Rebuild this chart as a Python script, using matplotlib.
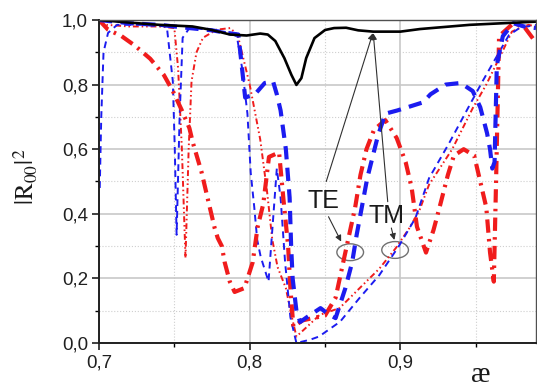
import numpy as np
import matplotlib
matplotlib.use("Agg")
import matplotlib.pyplot as plt
from matplotlib.ticker import MultipleLocator, FuncFormatter
from matplotlib.patches import Ellipse

plt.rcParams['font.family'] = ['Liberation Sans', 'DejaVu Sans']
plt.rcParams['mathtext.fontset'] = 'stix'

# black solid curve
black_x = [0.700, 0.720, 0.740, 0.762, 0.774, 0.787, 0.798, 0.807, 0.812, 0.817,
           0.823, 0.8277, 0.831, 0.8343, 0.8375, 0.843, 0.850, 0.856, 0.864, 0.872,
           0.882, 0.900, 0.913, 0.946, 0.990]
black_y = [1.000, 0.992, 0.985, 0.980, 0.970, 0.955, 0.952, 0.958, 0.955, 0.935,
           0.882, 0.830, 0.799, 0.820, 0.882, 0.944, 0.969, 0.975, 0.976, 0.968,
           0.964, 0.964, 0.972, 0.985, 0.995]

# TE, red thick dash-dot
te_red_x = [0.700, 0.706, 0.715, 0.724, 0.734, 0.743, 0.749, 0.755, 0.760, 0.7623,
            0.768, 0.772, 0.7768, 0.7788, 0.7815, 0.7834, 0.7868, 0.790, 0.7965, 0.802,
            0.8053, 0.809, 0.8128, 0.8195, 0.8225, 0.8255, 0.827, 0.829, 0.835, 0.850,
            0.857, 0.863, 0.870, 0.8735, 0.8775, 0.8825, 0.890, 0.8975, 0.9035, 0.9075,
            0.911, 0.917, 0.922, 0.926, 0.9315, 0.9355, 0.942, 0.949, 0.953, 0.957,
            0.9595, 0.962, 0.9635, 0.9655, 0.975, 0.982, 0.990]
te_red_y = [1.000, 0.970, 0.950, 0.920, 0.880, 0.830, 0.780, 0.720, 0.665, 0.620,
            0.530, 0.450, 0.355, 0.325, 0.300, 0.250, 0.190, 0.158, 0.170, 0.250,
            0.360, 0.430, 0.576, 0.590, 0.440, 0.300, 0.170, 0.050, 0.070, 0.085,
            0.140, 0.270, 0.420, 0.520, 0.600, 0.660, 0.690, 0.635, 0.560, 0.480,
            0.360, 0.280, 0.350, 0.420, 0.520, 0.580, 0.600, 0.580, 0.500, 0.420,
            0.280, 0.190, 0.500, 0.950, 0.990, 0.980, 0.930]

# TE, blue thick dashed
te_blue_x = [0.700, 0.720, 0.740, 0.760, 0.775, 0.785, 0.7925, 0.797, 0.8035, 0.810,
             0.8155, 0.818, 0.8205, 0.824, 0.8265, 0.8275, 0.8285, 0.831, 0.8335, 0.838,
             0.847, 0.852, 0.857, 0.8635, 0.868, 0.871, 0.878, 0.885, 0.890, 0.898,
             0.915, 0.920, 0.930, 0.940, 0.948, 0.953, 0.9575, 0.9595, 0.961, 0.9625,
             0.964, 0.968, 0.975, 0.982, 0.990]
te_blue_y = [1.000, 0.990, 0.985, 0.975, 0.968, 0.960, 0.955, 0.760, 0.770, 0.805,
             0.810, 0.770, 0.720, 0.600, 0.450, 0.300, 0.200, 0.100, 0.065, 0.080,
             0.108, 0.090, 0.077, 0.170, 0.250, 0.335, 0.510, 0.640, 0.710, 0.720,
             0.745, 0.770, 0.800, 0.805, 0.780, 0.730, 0.650, 0.600, 0.540, 0.560,
             0.860, 0.950, 0.990, 0.980, 0.975]

# TM, blue thin dashed
tm_blue_x = [0.7005, 0.7015, 0.703, 0.706, 0.712, 0.730, 0.745, 0.749, 0.7503, 0.7515,
             0.7535, 0.7555, 0.760, 0.775, 0.785, 0.7915, 0.795, 0.7985, 0.8007, 0.803,
             0.805, 0.8073, 0.8125, 0.815, 0.818, 0.8205, 0.8235, 0.827, 0.831, 0.840,
             0.846, 0.860, 0.873, 0.886, 0.899, 0.910, 0.919, 0.9325, 0.946, 0.9545,
             0.9655, 0.972, 0.979, 0.990]
tm_blue_y = [0.480, 0.700, 0.900, 0.960, 0.985, 0.985, 0.980, 0.810, 0.600, 0.335,
             0.700, 0.945, 0.975, 0.970, 0.962, 0.950, 0.850, 0.710, 0.526, 0.422,
             0.319, 0.267, 0.190, 0.350, 0.540, 0.450, 0.250, 0.080, 0.000, 0.010,
             0.020, 0.066, 0.140, 0.210, 0.300, 0.387, 0.510, 0.620, 0.737, 0.810,
             0.900, 0.953, 0.975, 0.985]

# TM, red thin dash-dot-dot
tm_red_x = [0.700, 0.705, 0.720, 0.740, 0.750, 0.7525, 0.755, 0.7574, 0.7595, 0.7614,
            0.7647, 0.769, 0.778, 0.787, 0.792, 0.800, 0.807, 0.8115, 0.815, 0.8185,
            0.824, 0.8275, 0.831, 0.838, 0.8464, 0.8596, 0.873, 0.886, 0.897, 0.906,
            0.9126, 0.919, 0.9344, 0.948, 0.957, 0.9675, 0.974, 0.979, 0.985, 0.990]
tm_red_y = [1.000, 0.985, 0.980, 0.980, 0.975, 0.850, 0.600, 0.263, 0.600, 0.810,
            0.900, 0.945, 0.970, 0.975, 0.954, 0.800, 0.630, 0.470, 0.320, 0.235,
            0.170, 0.090, 0.020, 0.050, 0.087, 0.108, 0.170, 0.230, 0.294, 0.356,
            0.410, 0.490, 0.600, 0.727, 0.800, 0.900, 0.964, 0.975, 0.985, 0.980]

blue = '#1c1cf0'
red = '#f01c1c'

fig = plt.figure(figsize=(5.37, 3.89), dpi=100)
ax = fig.add_axes([99/537, 1-343/389, 437/537, 323/389])

ax.plot(tm_red_x, tm_red_y, color=red, lw=1.4, dashes=(3, 1.5, 0.8, 1.5, 0.8, 1.5))
ax.plot(tm_blue_x, tm_blue_y, color=blue, lw=1.4, dashes=(3.5, 2.5))
ax.plot(te_red_x, te_red_y, color=red, lw=3.0, dashes=(3.2, 1.5, 0.6, 1.5))
ax.plot(te_blue_x, te_blue_y, color=blue, lw=3.0, dashes=(3.2, 2.0))
ax.plot(black_x, black_y, color='black', lw=1.9)

ax.set_xlim(0.7, 0.99)
ax.set_ylim(0.0, 1.0)
ax.xaxis.set_major_locator(MultipleLocator(0.1))
ax.xaxis.set_minor_locator(MultipleLocator(0.05))
ax.yaxis.set_major_locator(MultipleLocator(0.2))
ax.yaxis.set_minor_locator(MultipleLocator(0.1))
fmt = FuncFormatter(lambda v, p: f"{v:.1f}".replace('.', ','))
ax.xaxis.set_major_formatter(fmt)
ax.yaxis.set_major_formatter(fmt)

ax.grid(which='major', color='#c8c8c8', lw=1.2, ls='-')
ax.grid(which='minor', color='#cfcfcf', lw=0.8, ls=':')
ax.set_axisbelow(True)
ax.tick_params(which='major', direction='out', length=5, width=1.2, labelsize=13.5,
               colors='#202020', pad=3)
ax.tick_params(which='minor', direction='out', length=3, width=1.0)
for s in ['top', 'right']:
    ax.spines[s].set_color('#505050')
    ax.spines[s].set_linewidth(1.0)
for s in ['left', 'bottom']:
    ax.spines[s].set_color('#202020')
    ax.spines[s].set_linewidth(1.4)

# annotations
ax.text(0.849, 0.44, 'TE', fontsize=18, ha='center', va='center', color='#1a1a1a')
ax.text(0.891, 0.393, 'TM', fontsize=18, ha='center', va='center', color='#1a1a1a')
ax.add_patch(Ellipse((0.8667, 0.281), 0.0177, 0.052, fill=False, ec='#707070', lw=1.0))
ax.add_patch(Ellipse((0.8965, 0.288), 0.0177, 0.052, fill=False, ec='#707070', lw=1.0))
arr = dict(arrowstyle='-|>', color='#303030', lw=0.8, mutation_scale=9, shrinkA=0, shrinkB=0)
ax.annotate('', xy=(0.8817, 0.959), xytext=(0.8508, 0.50), arrowprops=arr)
ax.annotate('', xy=(0.882, 0.959), xytext=(0.8916, 0.4375), arrowprops=arr)
ax.annotate('', xy=(0.8607, 0.314), xytext=(0.8523, 0.391), arrowprops=arr)
ax.annotate('', xy=(0.896, 0.319), xytext=(0.894, 0.356), arrowprops=arr)

fig.text(26/537, 1-177/389, r'$|\mathrm{R}_{00}|^2$', rotation=90, fontsize=18,
         ha='center', va='center', color='#1a1a1a')
fig.text(481/537, 1/389, 'æ', fontsize=21, family=['Liberation Serif', 'DejaVu Serif'],
         ha='center', va='bottom', color='#1a1a1a')

fig.savefig('out.png', dpi=100)
